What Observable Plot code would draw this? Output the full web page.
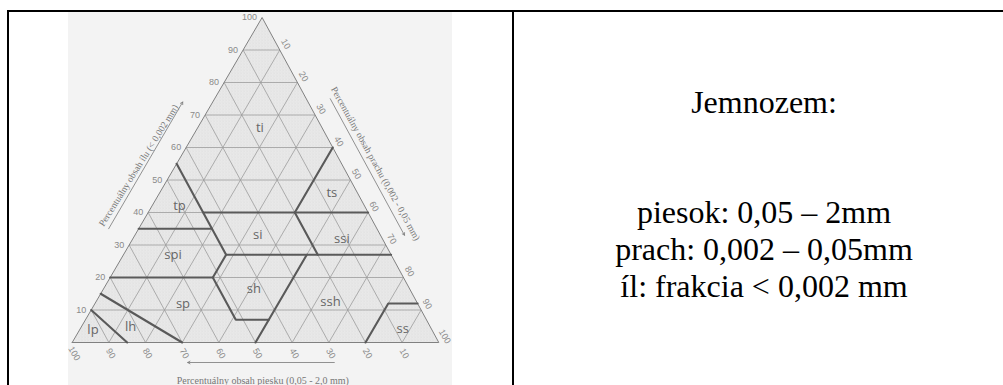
<!DOCTYPE html>
<html><head><meta charset="utf-8">
<script src="https://cdn.jsdelivr.net/npm/d3@7"></script>
<script src="https://cdn.jsdelivr.net/npm/@observablehq/plot@0.6"></script>
<style>
html,body{margin:0;padding:0;background:#fff;width:1003px;height:385px;overflow:hidden;}
#wrap{position:relative;width:1003px;height:385px;}
.b{position:absolute;background:#000;}
#scan{position:absolute;left:68px;top:12px;width:384px;height:373px;background:#f3f3f3;}
#chart{position:absolute;left:0;top:0;}
#chart svg{background:transparent !important;}
.t{position:absolute;left:513px;width:502px;text-align:center;font-family:"Liberation Serif","Times New Roman",serif;font-size:32px;line-height:37px;color:#000;white-space:nowrap;}
</style></head>
<body>
<div id="wrap">
  <div id="scan"></div>
  <div id="chart"></div>
  <div class="b" style="left:7px;top:10px;width:996px;height:2px;"></div>
  <div class="b" style="left:7px;top:10px;width:2px;height:375px;"></div>
  <div class="b" style="left:511.5px;top:10px;width:2px;height:375px;"></div>
  <div class="t" style="top:84px;">Jemnozem:</div>
  <div class="t" style="top:194px;">piesok: 0,05 – 2mm<br>prach: 0,002 – 0,05mm<br>íl: frakcia &lt; 0,002 mm</div>
</div>
<script>
// ---- data ----
const clayTicks = [10, 20, 30, 40, 50, 60, 70, 80, 90, 100];
const siltTicks = [10, 20, 30, 40, 50, 60, 70, 80, 90, 100];
const sandTicks = [100, 90, 80, 70, 60, 50, 40, 30, 20, 10];
const gridSteps = [10, 20, 30, 40, 50, 60, 70, 80, 90];

// class labels: name, clay %, silt %
const classNames = ["ti", "ts", "tp", "si", "ssi", "spi", "sh", "ssh", "sp", "ss", "lp", "lh"];
const classClay  = [66, 46, 42, 33, 32, 27, 16.5, 12.5, 12, 4.2, 4, 4.7];
const classSilt  = [17, 47, 7.5, 33.5, 57, 13.5, 41, 64, 24, 88, 3.6, 13.5];

// class boundaries, as [clay, silt] vertices
const bSand      = [[10, 0], [0, 15]];
const bLoamySand = [[15, 0], [0, 30]];
const bSandyLoam = [[20, 0], [20, 28], [7, 41], [7, 50], [0, 50]];
const bSilt50    = [[7, 50], [27, 50]];
const bSandyCL   = [[20, 28], [27, 28], [55, 0]];
const bClay35    = [[35, 0], [35, 20]];
const bClay27    = [[27, 28], [27, 73]];
const bSand20    = [[27, 53], [40, 40]];
const bClay40    = [[40, 15], [40, 60]];
const bSilt40    = [[40, 40], [60, 40]];
const bSiltClass = [[0, 80], [12, 80], [12, 88]];
const boundaries = [bSand, bLoamySand, bSandyLoam, bSilt50, bSandyCL, bClay35, bClay27, bSand20, bClay40, bSilt40, bSiltClass];

const titleClay = "Percentuálny obsah ílu (< 0,002 mm)";
const titleSilt = "Percentuálny obsah prachu (0,002 - 0,05 mm)";
const titleSand = "Percentuálny obsah piesku (0,05 - 2,0 mm)";

// ---- ternary projection (slight shear as in the scan) ----
const SH = 0.518;
const P = (c, s) => ({x: s + c * SH, y: c});

const corners = [P(0, 0), P(100, 0), P(0, 100), P(0, 0)];
const grid = gridSteps.flatMap(k => [
  [P(k, 0), P(k, 100 - k)],
  [P(0, k), P(100 - k, k)],
  [P(0, 100 - k), P(100 - k, 0)]
]).map(([a, b]) => ({x1: a.x, y1: a.y, x2: b.x, y2: b.y}));
const bData = boundaries.flatMap((poly, i) => poly.map(([c, s]) => ({...P(c, s), id: i})));
const classData = classNames.map((n, i) => ({name: n, ...P(classClay[i], classSilt[i])}));
const leftTicks = clayTicks.map(c => ({label: String(c), ...P(c, 0)}));
const rightTicks = siltTicks.map(s => ({label: String(s), ...P(100 - s, s)}));
const bottomTicks = sandTicks.map(a => ({label: String(a), ...P(0, 100 - a)}));

const tickFont = "Liberation Sans, Arial, sans-serif";
const titleFont = "Liberation Serif, serif";

const plot = Plot.plot({
  width: 520, height: 385,
  marginLeft: 71.7, marginRight: 81.7, marginTop: 17, marginBottom: 43,
  x: {domain: [0, 100], axis: null},
  y: {domain: [0, 100], axis: null},
  style: {background: "transparent", overflow: "visible"},
  marks: [
    Plot.line(corners, {x: "x", y: "y", fill: "url(#stipple)", stroke: "none"}),
    Plot.link(grid, {x1: "x1", y1: "y1", x2: "x2", y2: "y2", stroke: "#9c9c9c", strokeWidth: 0.8}),
    Plot.line(corners, {x: "x", y: "y", stroke: "#808080", strokeWidth: 1}),
    Plot.line(bData, {x: "x", y: "y", z: "id", stroke: "#5a5a5a", strokeWidth: 2.1, strokeLinejoin: "miter"}),
    Plot.text(classData, {x: "x", y: "y", text: "name", fontSize: 13, fill: "#666", fontFamily: "Open Sans, sans-serif"}),
    Plot.text(leftTicks, {x: "x", y: "y", text: "label", textAnchor: "end", dx: -5, fontSize: 9, fill: "#8a8a8a", fontFamily: tickFont}),
    Plot.text(rightTicks, {x: "x", y: "y", text: "label", rotate: 60, dx: 6, dy: -6, fontSize: 9, fill: "#8a8a8a", fontFamily: tickFont}),
    Plot.text(bottomTicks, {x: "x", y: "y", text: "label", rotate: 60, dx: 2, dy: 11, fontSize: 9, fill: "#8a8a8a", fontFamily: tickFont}),
    Plot.text([titleClay], {x: () => P(54.5, 0).x, y: () => P(54.5, 0).y, text: d => d, rotate: -58, dx: -37, fontSize: 9.5, fill: "#777", fontFamily: titleFont}),
    Plot.text([titleSilt], {x: () => P(55, 45).x, y: () => P(55, 45).y, text: d => d, rotate: 61, dx: 34, fontSize: 9.5, fill: "#777", fontFamily: titleFont}),
    Plot.text([titleSand], {x: () => P(0, 52).x, y: () => P(0, 52).y, text: d => d, dy: 38, fontSize: 10, fill: "#777", fontFamily: titleFont}),
    Plot.arrow([0], {x1: () => P(35, 0).x, y1: () => P(35, 0).y, x2: () => P(74, 0).x, y2: () => P(74, 0).y, dx: -30, stroke: "#777", strokeWidth: 0.8, headLength: 5}),
    Plot.arrow([0], {x1: () => P(75, 25).x, y1: () => P(75, 25).y, x2: () => P(33, 67).x, y2: () => P(33, 67).y, dx: 24, stroke: "#777", strokeWidth: 0.8, headLength: 5}),
    Plot.arrow([0], {x1: () => P(0, 71.5).x, y1: () => P(0, 71.5).y, x2: () => P(0, 31.5).x, y2: () => P(0, 31.5).y, dy: 20, stroke: "#777", strokeWidth: 0.8, headLength: 5})
  ]
});

// stipple pattern for the triangle fill
const ns = "http://www.w3.org/2000/svg";
const defs = document.createElementNS(ns, "defs");
defs.innerHTML = '<pattern id="stipple" width="3" height="3" patternUnits="userSpaceOnUse">' +
  '<rect width="3" height="3" fill="#ececec"/>' +
  '<circle cx="0.8" cy="0.8" r="0.6" fill="#c9c9c9"/>' +
  '<circle cx="2.3" cy="2.3" r="0.5" fill="#d6d6d6"/></pattern>';
plot.insertBefore(defs, plot.firstChild);
document.getElementById("chart").appendChild(plot);
</script>
</body></html>
